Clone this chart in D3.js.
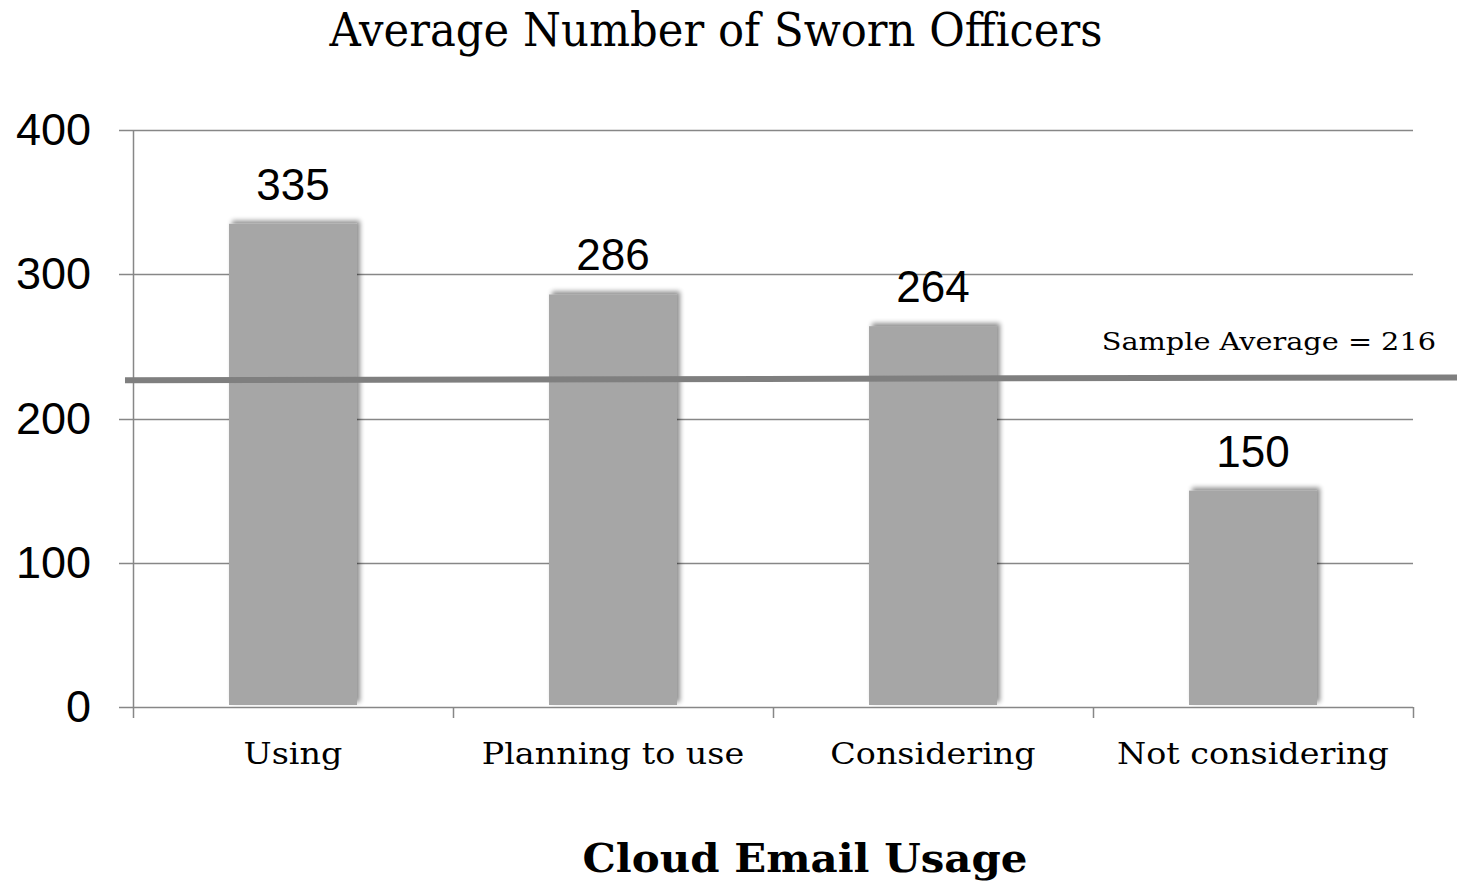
<!DOCTYPE html>
<html><head><meta charset="utf-8">
<script src="https://cdn.jsdelivr.net/npm/d3@7"></script>
<style>body{margin:0;background:#fff}svg{display:block}</style>
</head><body>
<script>
const categories = ["Using", "Planning to use", "Considering", "Not considering"];
const values = [335, 286, 264, 150];
const yTicks = [0, 100, 200, 300, 400];
const sampleAverage = 216;
// drawn average line level as it appears in the picture (start, end)
const avgLineLevels = [226.5, 228.5];
const title = "Average Number of Sworn Officers";
const xTitle = "Cloud Email Usage";
const avgLabel = "Sample Average = " + sampleAverage;

const W = 1457, H = 890;
const m = {left: 133, right: 44, top: 130, bottom: 183};
const svg = d3.select("body").append("svg").attr("width", W).attr("height", H);

const defs = svg.append("defs");
const f = defs.append("filter").attr("id","sh").attr("x","-20%").attr("y","-20%").attr("width","140%").attr("height","140%");
f.append("feGaussianBlur").attr("in","SourceAlpha").attr("stdDeviation",2.5).attr("result","b");
f.append("feOffset").attr("in","b").attr("dx",3).attr("dy",-3).attr("result","o");
f.append("feComponentTransfer").attr("in","o").attr("result","o2").append("feFuncA").attr("type","linear").attr("slope",0.45);
const mg = f.append("feMerge"); mg.append("feMergeNode").attr("in","o2"); mg.append("feMergeNode").attr("in","SourceGraphic");

const x = d3.scaleBand().domain(categories).range([m.left, W - m.right]).paddingInner(0.6).paddingOuter(0.3);
const xb = d3.scaleBand().domain(categories).range([m.left, W - m.right]);
const y = d3.scaleLinear().domain([0, 400]).range([H - m.bottom, m.top]);

const serif = "'DejaVu Serif', serif";
const sans = "'Liberation Sans', Arial, sans-serif";
const gridC = "#878787";

function stretch(sel, k) {
  sel.each(function() {
    const L = this.getComputedTextLength();
    d3.select(this).attr("textLength", L * k).attr("lengthAdjust", "spacingAndGlyphs");
  });
}

// gridlines
svg.append("g").selectAll("line").data(yTicks).join("line")
  .attr("x1", m.left - 14).attr("x2", W - m.right)
  .attr("y1", d => Math.round(y(d)) + 0.5).attr("y2", d => Math.round(y(d)) + 0.5)
  .attr("stroke", gridC).attr("stroke-width", 1.5);
// y axis line
svg.append("line").attr("x1", m.left + 0.5).attr("x2", m.left + 0.5)
  .attr("y1", y(400)).attr("y2", y(0) + 11).attr("stroke", gridC).attr("stroke-width", 1.5);
// x ticks
const xEdges = categories.map(c => xb(c)).concat([W - m.right]);
svg.append("g").selectAll("line").data(xEdges.slice(1)).join("line")
  .attr("x1", d => d + 0.5).attr("x2", d => d + 0.5)
  .attr("y1", y(0)).attr("y2", y(0) + 11).attr("stroke", gridC).attr("stroke-width", 1.5);

// y tick labels
svg.append("g").selectAll("text").data(yTicks).join("text")
  .attr("x", 91).attr("y", d => y(d) + 15)
  .attr("text-anchor", "end").attr("font-family", sans).attr("font-size", 45)
  .text(d => d);

// bars
svg.append("g").selectAll("rect").data(values).join("rect")
  .attr("x", (d, i) => x(categories[i])).attr("width", x.bandwidth())
  .attr("y", d => y(d)).attr("height", d => y(0) - 2 - y(d))
  .attr("fill", "#a6a6a6").attr("filter", "url(#sh)");

// value labels
svg.append("g").selectAll("text").data(values).join("text")
  .attr("x", (d, i) => x(categories[i]) + x.bandwidth() / 2)
  .attr("y", d => y(d) - 24)
  .attr("text-anchor", "middle").attr("font-family", sans).attr("font-size", 44)
  .text(d => d);

// x category labels
svg.append("g").selectAll("text").data(categories).join("text")
  .attr("x", d => xb(d) + xb.bandwidth() / 2).attr("y", 764)
  .attr("text-anchor", "middle").attr("font-family", serif).attr("font-size", 29)
  .text(d => d).call(stretch, 1.15);

// average line
svg.append("line").attr("x1", 125).attr("x2", W)
  .attr("y1", y(avgLineLevels[0])).attr("y2", y(avgLineLevels[1]))
  .attr("stroke", "#7f7f7f").attr("stroke-width", 6);
svg.append("text").attr("x", 1436).attr("y", 350).attr("text-anchor", "end")
  .attr("font-family", serif).attr("font-size", 25).text(avgLabel).call(stretch, 1.15);

// titles
svg.append("text").attr("x", 716).attr("y", 46).attr("text-anchor", "middle")
  .attr("font-family", serif).attr("font-size", 46).text(title)
  .attr("textLength", 773).attr("lengthAdjust", "spacingAndGlyphs");
svg.append("text").attr("x", 805).attr("y", 872).attr("text-anchor", "middle")
  .attr("font-family", serif).attr("font-weight", "bold").attr("font-size", 40).text(xTitle)
  .attr("textLength", 445).attr("lengthAdjust", "spacingAndGlyphs");
</script>
</body></html>
